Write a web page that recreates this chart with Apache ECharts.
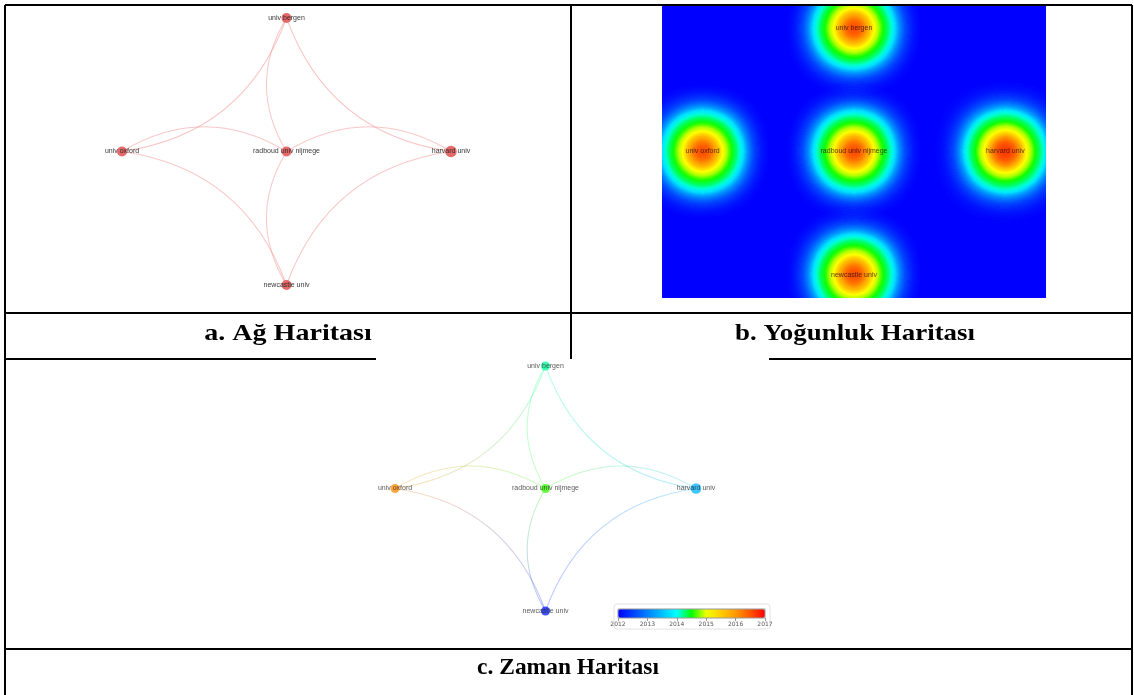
<!DOCTYPE html>
<html>
<head>
<meta charset="utf-8">
<script src="https://cdn.jsdelivr.net/npm/echarts@6/dist/echarts.min.js"></script>
<style>
html,body{margin:0;padding:0;background:#fff;}
#chart{width:1134px;height:695px;}
</style>
</head>
<body>
<div id="chart"></div>
<script>
// ---- data ----
const nodeNames = ['univ bergen', 'univ oxford', 'radboud univ nijmege', 'harvard univ', 'newcastle univ'];
const nodeX = [0, -1.23, 0, 1.23, 0];          // map layout coordinates
const nodeY = [-1, 0, 0, 0, 1];
const nodeWeight = [2, 2, 2, 3, 2];             // documents
const nodeYear = [2014.2, 2016.1, 2014.6, 2013.4, 2012.2]; // avg. publication year
const linkSource = [0, 3, 1, 4, 1, 2, 2, 4];
const linkTarget = [1, 0, 4, 3, 2, 3, 0, 2];
const yearTicks = [2012, 2013, 2014, 2015, 2016, 2017];
const captions = ['a. Ağ Haritası', 'b. Yoğunluk Haritası', 'c. Zaman Haritası'];

// ---- styles ----
// density colour ramp: [position, colour]
const densityStops = [
  [0.000, '#0000ff'], [0.015, '#0014ff'], [0.045, '#0044ff'], [0.085, '#0094ff'],
  [0.120, '#00e8ff'], [0.145, '#00ffd0'], [0.180, '#00ff60'], [0.225, '#10ff00'],
  [0.270, '#b0ff00'], [0.310, '#ffff00'], [0.360, '#ffb000'], [0.405, '#ff6000'],
  [0.440, '#ff3000'], [0.480, '#ff1000'], [1.000, '#ff0000']
];
function rampList(stops, n) {
  const out = [];
  for (let i = 0; i < n; i++) {
    const t = i / (n - 1);
    let k = 0;
    while (k < stops.length - 2 && t > stops[k + 1][0]) k++;
    const a = stops[k], b = stops[k + 1];
    const f = Math.min(1, Math.max(0, (t - a[0]) / (b[0] - a[0])));
    out.push(echarts.color.lerp(f, [a[1], b[1]]));
  }
  return out;
}
const densityColors = rampList(densityStops, 201);
const yearColors = ['#0000ff', '#0040ff', '#0080ff', '#00c0ff', '#00ffff', '#00ff00',
                    '#f0ff00', '#ffcc00', '#ff9900', '#ff5500', '#ff0000'];
const labelFont = {fontSize: 7, color: '#222', fontFamily: 'Liberation Sans'};

const chart = echarts.init(document.getElementById('chart'), null, {renderer: 'canvas'});

echarts.registerMap('densityFrame', {
  type: 'FeatureCollection',
  features: [{
    type: 'Feature', properties: {name: 'frame'},
    geometry: {type: 'Polygon', coordinates: [[[-1.56, -1.19], [1.56, -1.19], [1.56, 1.19], [-1.56, 1.19], [-1.56, -1.19]]]}
  }]
});

function nodes(sizeBase) {
  return nodeNames.map((n, i) => ({
    name: n, x: nodeX[i], y: nodeY[i], value: nodeYear[i],
    symbolSize: sizeBase + (nodeWeight[i] - 2) * 1.5
  }));
}
function yearColor(y) {
  return echarts.color.lerp((y - yearTicks[0]) / (yearTicks[yearTicks.length - 1] - yearTicks[0]), yearColors);
}
const linksA = linkSource.map((s, k) => ({
  source: nodeNames[s], target: nodeNames[linkTarget[k]],
  lineStyle: {curveness: 0.3}
}));
const linksC = linkSource.map((s, k) => {
  const t = linkTarget[k];
  const dx = nodeX[t] - nodeX[s], dy = nodeY[t] - nodeY[s];
  const e = 1e-6;
  const g = {
    type: 'linear',
    x: dx > e ? 0 : (dx < -e ? 1 : 0), x2: dx > e ? 1 : (dx < -e ? 0 : 0),
    y: dy > e ? 0 : (dy < -e ? 1 : 0), y2: dy > e ? 1 : (dy < -e ? 0 : 0),
    colorStops: [
      {offset: 0, color: echarts.color.modifyAlpha(yearColor(nodeYear[s]), 0.55)},
      {offset: 1, color: echarts.color.modifyAlpha(yearColor(nodeYear[t]), 0.55)}
    ]
  };
  return {source: nodeNames[s], target: nodeNames[t], lineStyle: {curveness: 0.3, color: g}};
});

const heatData = nodeNames.map((n, i) => [nodeX[i], nodeY[i], nodeWeight[i]]);
const heatLabels = nodeNames.map((n, i) => ({name: n, value: [nodeX[i], nodeY[i]]}));

// table lines
const L = (x1, y1, x2, y2) => ({type: 'line', shape: {x1, y1, x2, y2}, style: {stroke: '#000', lineWidth: 2}, silent: true, z: 100});
const capStyle = {font: 'bold 23px "Liberation Serif"', fill: '#000', textAlign: 'center', textVerticalAlign: 'middle'};
const cap = (i, x, y, sx) => ({type: 'text', x: x, y: y, scaleX: sx, style: Object.assign({text: captions[i]}, capStyle), z: 100, silent: true});

const option = {
  backgroundColor: '#fff',
  animation: false,
  geo: {
    map: 'densityFrame',
    left: 662, top: 5, width: 384, height: 293,
    projection: {project: p => [p[0], p[1]], unproject: p => [p[0], p[1]]},
    roam: false, silent: true,
    label: {show: false},
    itemStyle: {areaColor: '#0000ff', borderWidth: 0},
    emphasis: {disabled: true},
    select: {disabled: true}
  },
  grid: {left: 618, top: 609, width: 147, height: 9, show: false},
  xAxis: {
    type: 'value', min: yearTicks[0], max: yearTicks[yearTicks.length - 1], interval: 1,
    axisLine: {show: false}, splitLine: {show: false},
    axisTick: {show: true, length: 3, lineStyle: {color: '#999'}},
    axisLabel: {fontSize: 6, color: '#555', margin: 3, fontFamily: 'DejaVu Sans', formatter: v => String(v)}
  },
  yAxis: {type: 'value', show: false, min: 0, max: 1},
  visualMap: [
    {
      type: 'continuous', show: false, seriesIndex: 1,
      min: -30, max: 3, inRange: {color: densityColors}
    },
    {
      type: 'continuous', show: true, seriesIndex: 3, dimension: 0,
      min: yearTicks[0], max: yearTicks[yearTicks.length - 1],
      orient: 'horizontal', left: 618, top: 609, itemWidth: 9, itemHeight: 147,
      padding: 0, calculable: false, hoverLink: false, text: null,
      inRange: {color: yearColors}
    }
  ],
  graphic: [
    {type: 'rect', shape: {x: 614, y: 604, width: 156, height: 25, r: 3}, style: {fill: '#fff', stroke: '#e2e2e2', lineWidth: 1}, z: -1, silent: true},
    {type: 'rect', shape: {x: 618, y: 609, width: 147, height: 9}, style: {fill: 'none', stroke: '#999', lineWidth: 1}, z: 50, silent: true},
    L(5, 5, 1132, 5), L(5, 5, 5, 695), L(1132, 5, 1132, 695), L(571, 5, 571, 359),
    L(5, 313, 1132, 313), L(5, 359, 376, 359), L(769, 359, 1132, 359), L(5, 649, 1132, 649),
    cap(0, 288, 334, 1.22), cap(1, 855, 334, 1.17), cap(2, 568, 668, 1.02)
  ],
  series: [
    {
      type: 'graph', layout: 'none', roam: false, silent: true,
      left: 122, top: 18, width: 329, height: 267,
      data: nodes(10),
      links: linksA,
      itemStyle: {color: '#e35a5a', opacity: 0.9},
      lineStyle: {color: '#f5a0a0', width: 1, opacity: 0.6},
      label: Object.assign({show: true, position: 'inside', formatter: '{b}'}, labelFont),
      emphasis: {disabled: true}
    },
    {
      type: 'heatmap', coordinateSystem: 'geo', geoIndex: 0,
      data: heatData, pointSize: 24, blurSize: 46, minOpacity: 1, maxOpacity: 1,
      silent: true
    },
    {
      type: 'scatter', coordinateSystem: 'geo', geoIndex: 0,
      data: heatLabels, symbolSize: 1, itemStyle: {color: 'rgba(0,0,0,0)'}, silent: true, z: 5,
      label: Object.assign({show: true, position: 'inside', formatter: '{b}'}, labelFont, {color: '#2a1010'})
    },
    {
      type: 'graph', layout: 'none', roam: false, silent: true,
      left: 395, top: 366, width: 301, height: 245,
      data: nodes(9),
      links: linksC,
      itemStyle: {opacity: 0.75},
      lineStyle: {width: 1},
      label: Object.assign({show: true, position: 'inside', formatter: '{b}'}, labelFont),
      emphasis: {disabled: true}
    }
  ]
};
chart.setOption(option);
</script>
</body>
</html>
